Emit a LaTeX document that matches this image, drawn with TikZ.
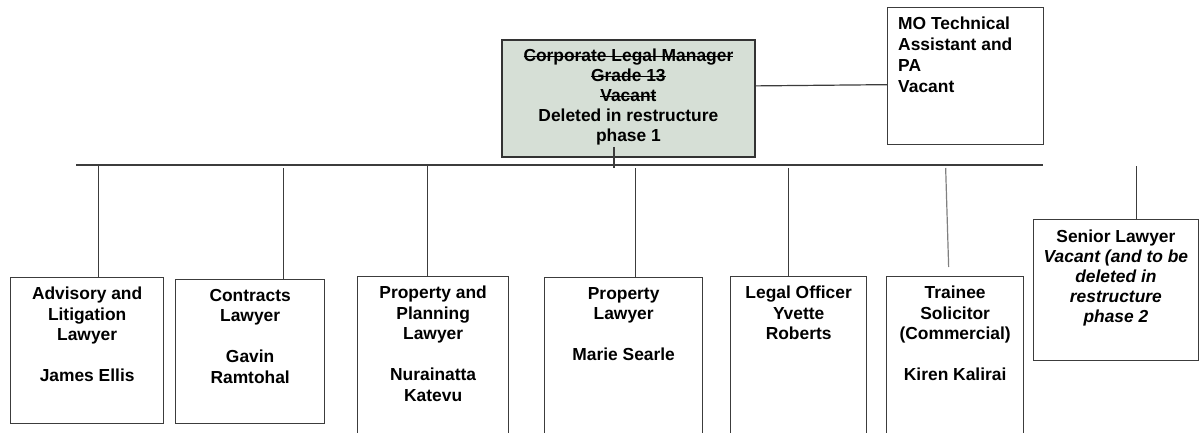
\documentclass[tikz,border=0pt]{standalone}
\usepackage{fontspec}
\setmainfont{Liberation Sans}
\newcommand{\mystrike}[1]{\setbox0\hbox{#1}\rlap{\vrule height 0.34em depth -0.27em width \wd0}\box0}
\definecolor{linegray}{RGB}{60,60,60}
\definecolor{mgrfill}{RGB}{214,223,214}
\begin{document}
\begin{tikzpicture}[x=1pt,y=-1pt,
  post/.style={draw=linegray, line width=1.3pt, inner sep=0pt, anchor=north west, fill=white},
  lbl/.style={font=\bfseries\fontsize{17.4}{20.5}\selectfont, align=center, inner sep=0pt, anchor=north},
  conn/.style={draw=linegray, line width=1.2pt}]
\clip (0,0) rectangle (1199,433);
\fill[white] (0,0) rectangle (1199,433);

% boxes
\node[post, fill=mgrfill, draw=black!80, line width=1.8pt, minimum width=253pt, minimum height=117pt] (mgr) at (501,39) {};
\node[post, minimum width=156pt, minimum height=137pt] (mo) at (887,7) {};
\node[post, minimum width=153pt, minimum height=146pt] (b1) at (10,277) {};
\node[post, minimum width=149pt, minimum height=144pt] (b2) at (175,279) {};
\node[post, minimum width=151pt, minimum height=170pt] (b3) at (357,276) {};
\node[post, minimum width=158pt, minimum height=170pt] (b4) at (544,277) {};
\node[post, minimum width=136pt, minimum height=170pt] (b5) at (730,276) {};
\node[post, minimum width=137pt, minimum height=170pt] (b6) at (886,276) {};
\node[post, minimum width=164.5pt, minimum height=141pt] (b7) at (1033,219) {};

% texts
\node[lbl, font=\bfseries\fontsize{17.4}{20}\selectfont] (tmgr) at ([yshift=-10pt]mgr.north)
  {\mystrike{Corporate Legal Manager}\\\mystrike{Grade 13}\\\mystrike{Vacant}\\Deleted in restructure\\phase 1};
\node[lbl, anchor=north west, align=left, font=\bfseries\fontsize{17.4}{21}\selectfont] (tmo) at ([xshift=11pt,yshift=-10pt]mo.north west)
  {MO Technical\\Assistant and\\PA\\Vacant};
\node[lbl] (t1) at ([yshift=-10pt]b1.north) {Advisory and\\Litigation\\Lawyer\\\mbox{}\\James Ellis};
\node[lbl] (t2) at ([yshift=-10pt]b2.north) {Contracts\\Lawyer\\\mbox{}\\Gavin\\Ramtohal};
\node[lbl] (t3) at ([yshift=-10pt]b3.north) {Property and\\Planning\\Lawyer\\\mbox{}\\Nurainatta\\Katevu};
\node[lbl] (t4) at ([yshift=-10pt]b4.north) {Property\\Lawyer\\\mbox{}\\Marie Searle};
\node[lbl] (t5) at ([yshift=-10pt]b5.north) {Legal Officer\\Yvette\\Roberts};
\node[lbl] (t6) at ([yshift=-10pt]b6.north) {Trainee\\Solicitor\\(Commercial)\\\mbox{}\\Kiren Kalirai};
\node[lbl, font=\bfseries\fontsize{17.4}{20}\selectfont] (t7) at ([yshift=-11pt]b7.north)
  {Senior Lawyer\\\textit{Vacant (and to be}\\\textit{deleted in}\\\textit{restructure}\\\textit{phase 2}};

% connectors
\coordinate (busL) at (76,165);
\coordinate (busR) at (1043,165);
\draw[conn] (busL) -- (busR);
\coordinate (mstub) at (614,168);
\draw[conn] (mgr.south -| mstub) ++(0,-11) -- (mstub);
\draw[conn] ([yshift=12.5pt]mgr.east) -- ([yshift=-8.5pt]mo.west);
\draw[conn] ([xshift=11.5pt]b1.north) -- ++(0,-112);
\draw[conn] ([xshift=33.5pt]b2.north) -- ++(0,-111);
\draw[conn] ([xshift=-5.5pt]b3.north) -- ++(0,-111);
\draw[conn] ([xshift=12pt]b4.north) -- ++(0,-109);
\draw[conn] ([xshift=-10pt]b5.north) -- ++(0,-108);
\draw[conn, draw=gray] ([xshift=-6.5pt,yshift=9pt]b6.north) -- ++(-3,-99);
\draw[conn] ([xshift=20.75pt]b7.north) -- ++(0,-53);
\end{tikzpicture}
\end{document}
